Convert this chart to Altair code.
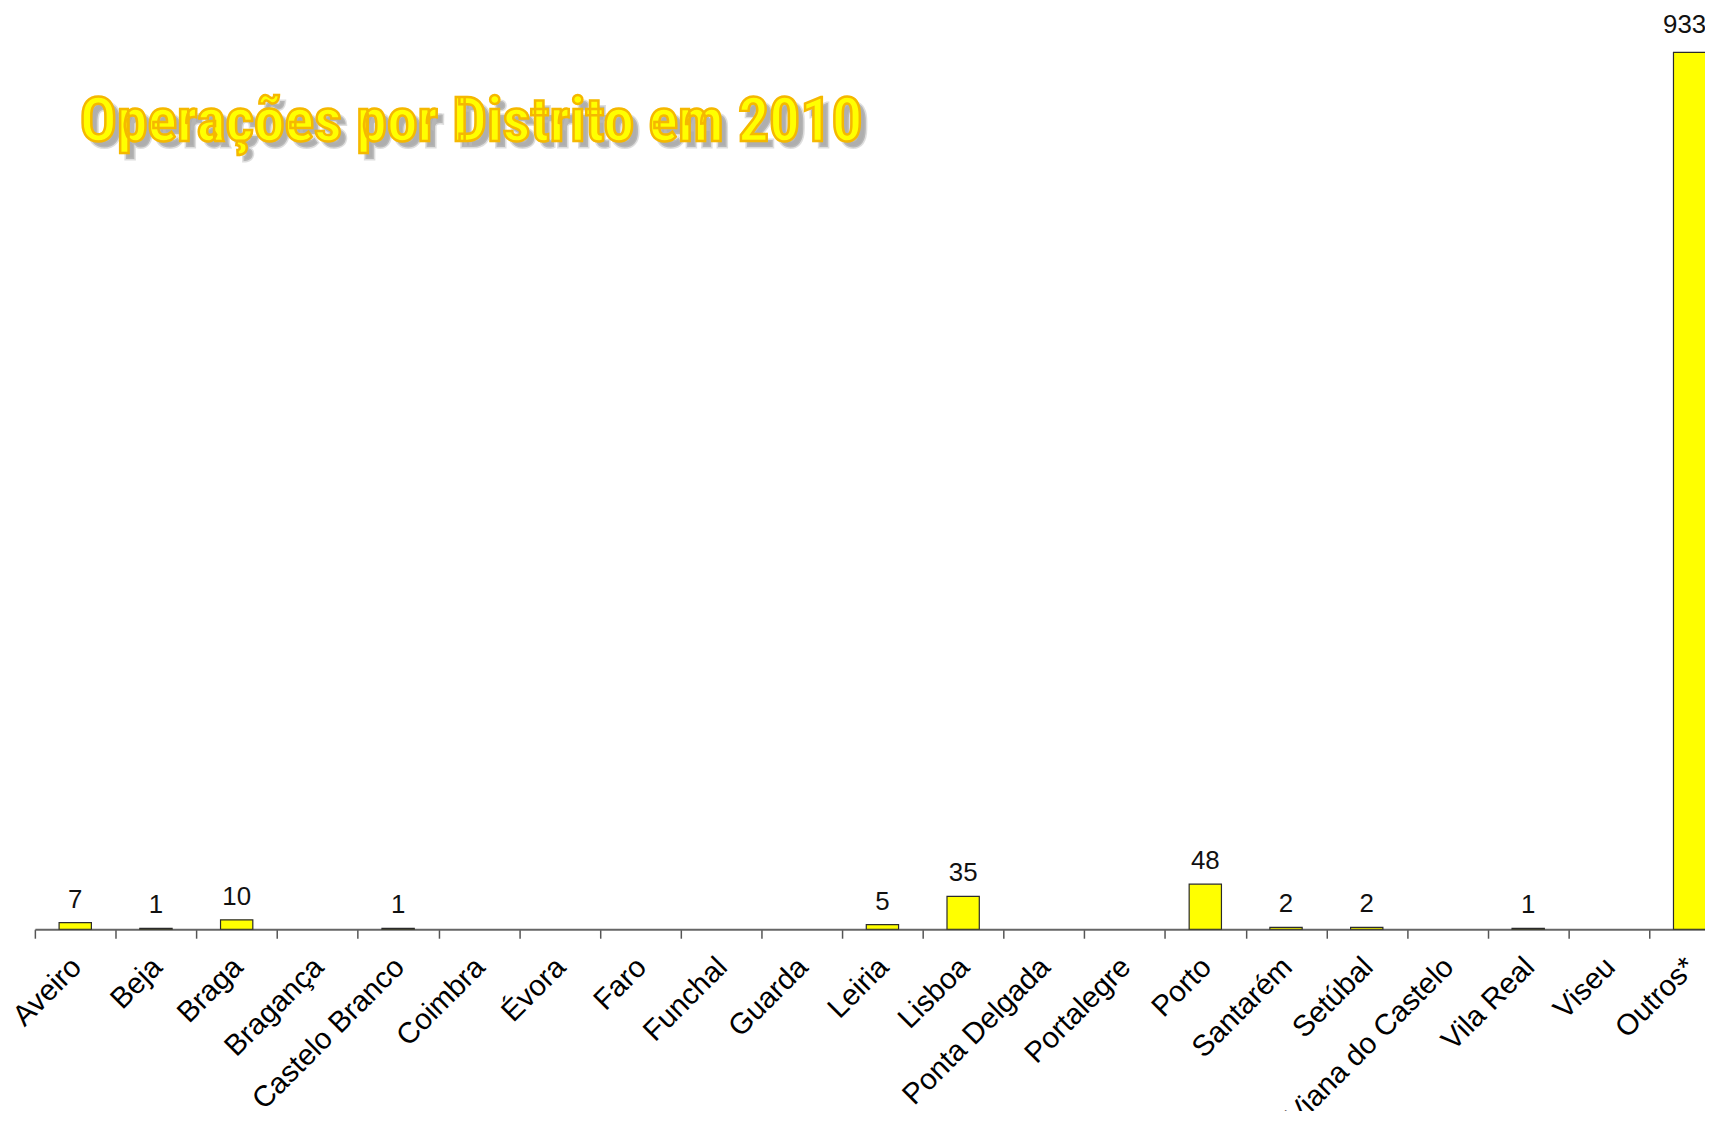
import altair as alt
import pandas as pd

categories = ["Aveiro", "Beja", "Braga", "Bragança", "Castelo Branco", "Coimbra",
              "Évora", "Faro", "Funchal", "Guarda", "Leiria", "Lisboa",
              "Ponta Delgada", "Portalegre", "Porto", "Santarém", "Setúbal",
              "Viana do Castelo", "Vila Real", "Viseu", "Outros*"]
values = [7, 1, 10, 0, 1, 0, 0, 0, 0, 0, 5, 35, 0, 0, 48, 2, 2, 0, 1, 0, 933]
title_text = ["Operações por Distrito em 2010"]

df = pd.DataFrame({"distrito": categories, "operacoes": values})
tdf = pd.DataFrame({"t": title_text})

STEP = 81.1
x = alt.X(
    "distrito:N", sort=categories, title=None,
    scale=alt.Scale(domain=categories, range=[0, STEP * 21], paddingInner=0.6,
                    paddingOuter=0.3, round=False),
    axis=alt.Axis(labelAngle=315, labelAlign="right", labelBaseline="middle",
                  labelFont="Liberation Sans", labelFontSize=29.5, labelColor="black",
                  labelPadding=24, tickSize=9, tickColor="#555555", domainColor="#666666",
                  tickOffset=-STEP / 2, labelOffset=STEP / 2 + 1,
                  labelOverlap=False, labelBound=False, labelLimit=0,
                  grid=False, domainWidth=1.8, tickWidth=1.5))
y = alt.Y("operacoes:Q", scale=alt.Scale(domain=[0, 933], nice=False, zero=True), axis=None)

base = alt.Chart(df).transform_filter("datum.operacoes > 0")
bars = base.mark_bar(color="#FFFF00", stroke="#2b2b2b", strokeWidth=1.2).encode(x=x, y=y)
labels = base.transform_filter("datum.distrito != 'Outros*'").mark_text(
    baseline="alphabetic", dy=-15, font="Liberation Sans", fontSize=26, color="#111111"
).encode(x=x, y=y, text="operacoes:Q")
label_last = base.transform_filter("datum.distrito == 'Outros*'").mark_text(
    baseline="alphabetic", dy=-19, dx=-5, font="Liberation Sans", fontSize=26, color="#111111"
).encode(x=x, y=y, text="operacoes:Q")

tfont = "Roboto Condensed, Liberation Sans Narrow, DejaVu Sans Condensed, sans-serif"
shadow = alt.Chart(tdf).mark_text(align="left", baseline="alphabetic", font=tfont, fontSize=62,
                                  fontWeight="bold", fill="#9a9a9a", opacity=0.8,
                                  stroke="#b0b0b0", strokeWidth=3, strokeOpacity=0.5).encode(
    x=alt.value(51), y=alt.value(95), text="t:N")
main = alt.Chart(tdf).mark_text(align="left", baseline="alphabetic", font=tfont, fontSize=62,
                                fontWeight="bold", fill="#FFFF00", stroke="#F5B800",
                                strokeWidth=2.5).encode(
    x=alt.value(45), y=alt.value(89), text="t:N")

chart = alt.layer(bars, labels, label_last, shadow, main).properties(
    width=1678, height=881,
    autosize=alt.AutoSizeParams(type="none"),
    padding={"left": 27, "top": 42, "right": 0, "bottom": 180},
).configure_view(stroke=None)

chart.save("out.html", embed_options={"renderer": "svg", "actions": False})
